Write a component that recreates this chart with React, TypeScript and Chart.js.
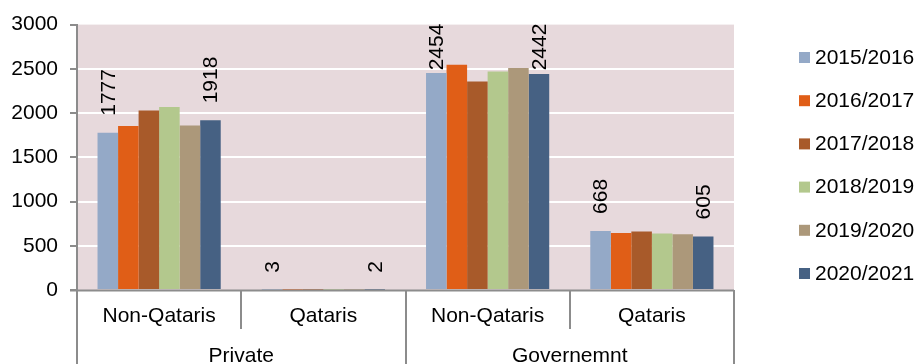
import React, { useEffect, useRef } from "react";
import { Chart, registerables } from "chart.js";

Chart.register(...registerables);

// Staff counts by sector and nationality, per academic year
const categories = ["Non-Qataris", "Qataris", "Non-Qataris", "Qataris"];
const groups = ["Private", "Governemnt"];
const seriesLabels = ["2015/2016", "2016/2017", "2017/2018", "2018/2019", "2019/2020", "2020/2021"];
const values2015 = [1777, 3, 2454, 668];
const values2016 = [1855, 3, 2545, 645];
const values2017 = [2030, 2, 2358, 660];
const values2018 = [2068, 2, 2470, 640];
const values2019 = [1860, 2, 2510, 630];
const values2020 = [1918, 2, 2442, 605];
const seriesColors = ["#94A9C7", "#E05E17", "#A85A2A", "#B3C88D", "#AC987A", "#466183"];
// Only the first and last year carry value labels
const labelledSeries = [0, 5];

const FONT = "'Liberation Sans', Arial, sans-serif";
const FONT_SIZE = 21;
const AXIS_GRAY = "#8C8C8C";
const PLOT_BG = "#E7D9DC";

const plotBackground = {
  id: "plotBackground",
  beforeDraw(chart: any) {
    const { ctx, chartArea } = chart;
    ctx.save();
    ctx.fillStyle = PLOT_BG;
    ctx.fillRect(chartArea.left, chartArea.top, chartArea.right - chartArea.left, chartArea.bottom - chartArea.top);
    ctx.restore();
  },
};

const valueLabels = {
  id: "valueLabels",
  afterDatasetsDraw(chart: any) {
    const { ctx, chartArea } = chart;
    ctx.save();
    ctx.font = `${FONT_SIZE}px ${FONT}`;
    ctx.fillStyle = "#000";
    ctx.textAlign = "left";
    ctx.textBaseline = "middle";
    labelledSeries.forEach((di) => {
      const meta = chart.getDatasetMeta(di);
      const data = chart.data.datasets[di].data as number[];
      meta.data.forEach((bar: any, i: number) => {
        const text = String(data[i]);
        const w = ctx.measureText(text).width;
        let y = bar.y - 17;
        const minY = chartArea.top - 1 + w;
        if (y < minY) y = minY;
        ctx.save();
        ctx.translate(bar.x + 1, y);
        ctx.rotate(-Math.PI / 2);
        ctx.fillText(text, 0, 0);
        ctx.restore();
      });
    });
    ctx.restore();
  },
};

const groupAxis = {
  id: "groupAxis",
  afterDraw(chart: any) {
    const { ctx, chartArea } = chart;
    const x = chart.scales.x;
    const n = categories.length;
    const step = (chartArea.right - chartArea.left) / n;
    const bottom = chart.height;
    const top = chartArea.bottom;
    ctx.save();
    ctx.strokeStyle = AXIS_GRAY;
    ctx.lineWidth = 2;
    // separators between categories
    for (let i = 0; i <= n; i++) {
      const px = Math.round(x.left + step * i);
      const outer = i % 2 === 0;
      ctx.beginPath();
      ctx.moveTo(px, top);
      ctx.lineTo(px, outer ? bottom : top + 39);
      ctx.stroke();
    }
    // x axis line, extended over the y tick mark
    ctx.beginPath();
    ctx.moveTo(chartArea.left - 7, top + 0.5);
    ctx.lineTo(chartArea.right, top + 0.5);
    ctx.stroke();
    ctx.font = `${FONT_SIZE}px ${FONT}`;
    ctx.fillStyle = "#000";
    ctx.textAlign = "center";
    ctx.textBaseline = "alphabetic";
    groups.forEach((g, gi) => {
      const cx = x.left + step * (gi * 2 + 1);
      ctx.fillText(g, cx, 362);
    });
    ctx.restore();
  },
};

const sideLegend = {
  id: "sideLegend",
  afterDraw(chart: any) {
    const { ctx } = chart;
    ctx.save();
    ctx.font = `${FONT_SIZE}px ${FONT}`;
    ctx.textAlign = "left";
    ctx.textBaseline = "middle";
    chart.data.datasets.forEach((ds: any, i: number) => {
      const cy = 57 + i * 43.2;
      ctx.fillStyle = ds.backgroundColor;
      ctx.fillRect(799, cy - 5, 11, 11);
      ctx.fillStyle = "#000";
      ctx.fillText(ds.label, 815, cy + 1);
    });
    ctx.restore();
  },
};

export default function App() {
  const canvasRef = useRef<HTMLCanvasElement>(null);

  useEffect(() => {
    if (!canvasRef.current) return;
    const seriesValues = [values2015, values2016, values2017, values2018, values2019, values2020];
    const chart = new Chart(canvasRef.current, {
      type: "bar",
      data: {
        labels: categories,
        datasets: seriesLabels.map((label, i) => ({
          label,
          data: seriesValues[i],
          backgroundColor: seriesColors[i],
          borderWidth: 0,
          categoryPercentage: 0.75,
          barPercentage: 1,
        })),
      },
      options: {
        animation: false,
        responsive: false,
        layout: { padding: { top: 18, right: 183, left: 0, bottom: 0 } },
        plugins: {
          legend: { display: false },
          tooltip: { enabled: false },
        },
        scales: {
          x: {
            grid: { display: false, drawTicks: false },
            border: { display: false },
            ticks: {
              color: "#000",
              font: { family: FONT, size: FONT_SIZE },
              padding: 14,
              maxRotation: 0,
            },
            afterFit(scale: any) {
              scale.height = 74;
            },
          },
          y: {
            min: 0,
            max: 3000,
            ticks: {
              stepSize: 500,
              color: "#000",
              font: { family: FONT, size: FONT_SIZE },
              padding: 12,
              callback: (v: any) => String(v),
            },
            grid: {
              color: (c: any) => (c.tick && (c.tick.value === 0 || c.tick.value === 3000) ? "rgba(0,0,0,0)" : "#FFFFFF"),
              lineWidth: 2,
              tickColor: AXIS_GRAY,
              tickLength: 7,
            },
            border: { color: AXIS_GRAY, width: 2 },
            afterFit(scale: any) {
              scale.width = 77;
            },
          },
        },
      },
      plugins: [plotBackground, valueLabels, groupAxis, sideLegend],
    });
    return () => chart.destroy();
  }, []);

  return (
    <div style={{ position: "absolute", left: 0, top: 0, width: 917, height: 364, background: "#fff" }}>
      <canvas ref={canvasRef} width={917} height={364} style={{ display: "block" }} />
    </div>
  );
}
